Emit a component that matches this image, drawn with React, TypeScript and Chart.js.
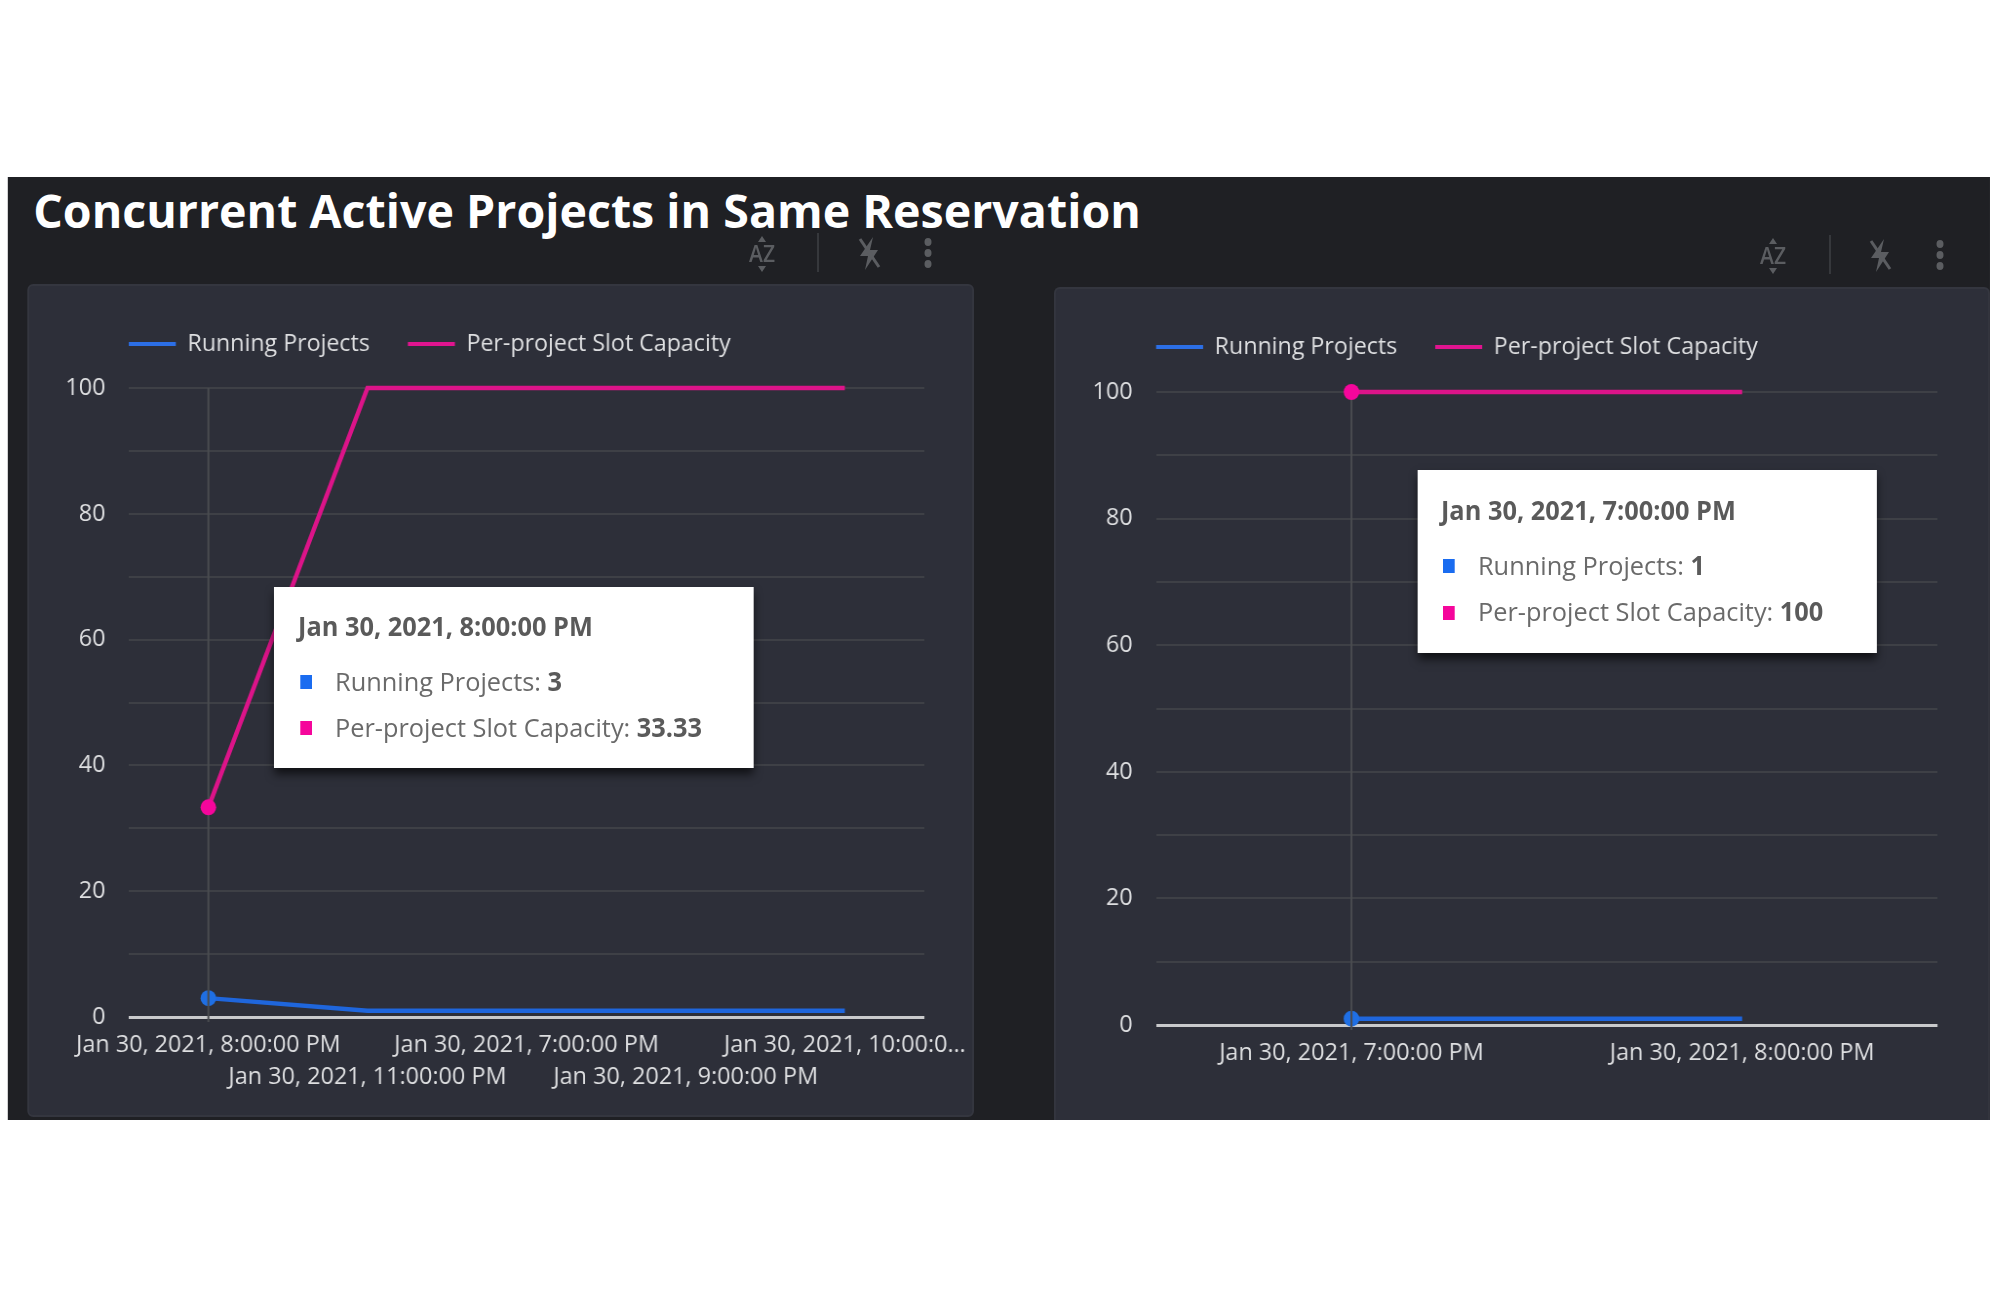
import React, { useEffect, useRef } from "react";
import { Chart, registerables } from "chart.js";

Chart.register(...registerables);

const titleText = "Concurrent Active Projects in Same Reservation";
const seriesNames = ["Running Projects", "Per-project Slot Capacity"];

const leftCategories = [
  "Jan 30, 2021, 8:00:00 PM",
  "Jan 30, 2021, 11:00:00 PM",
  "Jan 30, 2021, 7:00:00 PM",
  "Jan 30, 2021, 9:00:00 PM",
  "Jan 30, 2021, 10:00:00 PM",
];
const leftTickLabels = [
  ["Jan 30, 2021, 8:00:00 PM", ""],
  ["", "Jan 30, 2021, 11:00:00 PM"],
  ["Jan 30, 2021, 7:00:00 PM", ""],
  ["", "Jan 30, 2021, 9:00:00 PM"],
  ["Jan 30, 2021, 10:00:0…", ""],
];
const leftRunning = [3, 1, 1, 1, 1];
const leftCapacity = [33.33, 100, 100, 100, 100];

const rightCategories = ["Jan 30, 2021, 7:00:00 PM", "Jan 30, 2021, 8:00:00 PM"];
const rightTickLabels = [["Jan 30, 2021, 7:00:00 PM", ""], ["Jan 30, 2021, 8:00:00 PM", ""]];
const rightRunning = [1, 1];
const rightCapacity = [100, 100];

const SX = 0.975;
const X = (v: number) => v / SX;
const FONT = "'Open Sans'";
const BLUE = "#1f66dc";
const PINK = "#dc1489";
const TEXT = "#dedfe1";
const LEGEND_GAP = 39;
const LEGEND_TOP = 9;
const AXIS_W = 90;

function LineChart(props: any) {
  const ref = useRef<HTMLCanvasElement>(null);
  const { cats, ticks, running, capacity, active, left, right, top, bottom, plotLeft, plotRight, plotTop, plotBottom } = props;
  useEffect(() => {
    const legendH = plotTop - top - LEGEND_TOP;
    const axisH = bottom - plotBottom;
    const plugin = {
      id: "fit",
      beforeInit(chart: any) {
        const fit = chart.legend.fit;
        chart.legend.fit = function () {
          fit.call(chart.legend);
          this.height = legendH;
        };
      },
      beforeDraw(chart: any) {
        chart.legend.left = chart.chartArea.left - LEGEND_GAP;
      },
      afterDatasetDraw(chart: any, args: any) {
        if (args.index !== 0) return;
        const c = chart.ctx;
        const x = chart.scales.x.getPixelForValue(active);
        c.save();
        c.strokeStyle = "#4a4c50";
        c.lineWidth = 2;
        c.beginPath();
        c.moveTo(x, chart.chartArea.top);
        c.lineTo(x, chart.chartArea.bottom + 5);
        c.stroke();
        c.restore();
      },
    };
    const radius = (ctx: any) => (ctx.dataIndex === active ? 8 : 0);
    const chart = new Chart(ref.current as any, {
      type: "line",
      data: {
        labels: cats,
        datasets: [
          { label: seriesNames[0], data: running, borderColor: BLUE, backgroundColor: "#2c6fe6", borderWidth: 4.5, pointRadius: radius, pointBorderWidth: 0, pointBackgroundColor: "#1f6fe4", order: 2, clip: false as any, tension: 0 },
          { label: seriesNames[1], data: capacity, borderColor: PINK, backgroundColor: "#e0148f", borderWidth: 4.5, pointRadius: radius, pointBorderWidth: 0, pointBackgroundColor: "#f5069b", order: 1, clip: false as any, tension: 0 },
        ],
      },
      plugins: [plugin as any],
      options: {
        responsive: false,
        animation: false,
        events: [],
        layout: {
          padding: {
            left: X(plotLeft - left) - AXIS_W,
            right: X(right - plotRight),
            top: LEGEND_TOP,
            bottom: 0,
          },
        },
        plugins: {
          title: { display: false },
          tooltip: { enabled: false },
          legend: {
            position: "top",
            align: "start",
            labels: {
              boxWidth: X(47),
              boxHeight: 4,
              padding: LEGEND_GAP,
              color: TEXT,
              font: { family: FONT, size: 23.8 },
              sort: (a: any, b: any) => a.datasetIndex - b.datasetIndex,
              generateLabels: (chart: any) =>
                Chart.defaults.plugins.legend.labels.generateLabels(chart).map((it: any) => ({ ...it, lineWidth: 0 })),
            },
          },
        },
        scales: {
          x: {
            type: "category",
            offset: true,
            grid: { display: false, drawTicks: false },
            border: { display: false },
            afterFit: (s: any) => { s.height = axisH; },
            ticks: {
              autoSkip: false,
              maxRotation: 0,
              minRotation: 0,
              padding: 12.5,
              color: TEXT,
              font: { family: FONT, size: 24, lineHeight: 32 / 24 },
              callback: (_v: any, i: number) => ticks[i],
            },
          },
          y: {
            min: 0,
            max: 100,
            grid: {
              drawTicks: false,
              color: (c: any) => (c.tick.value === 0 ? "#c9cacc" : "#3e4046"),
              lineWidth: (c: any) => (c.tick.value === 0 ? 3 : 2),
            },
            border: { display: false },
            afterFit: (s: any) => { s.width = AXIS_W; },
            ticks: {
              stepSize: 10,
              padding: 24,
              color: TEXT,
              font: { family: FONT, size: 24 },
              callback: (v: any) => (Number(v) % 20 === 0 ? String(v) : ""),
            },
          },
        },
      } as any,
    });
    return () => chart.destroy();
  }, []);
  return (
    <canvas
      ref={ref}
      width={X(right - left)}
      height={bottom - top}
      style={{ position: "absolute", left: X(left), top }}
    />
  );
}

function Tip(props: any) {
  const { l, r, t, b, title, titleY, rows, tx, sq, txt } = props;
  const abs = (x: number, y: number): React.CSSProperties => ({
    position: "absolute", left: X(x - l), top: y - t, transform: "translateY(-50%)", whiteSpace: "nowrap", lineHeight: 1,
  });
  return (
    <div style={{ position: "absolute", left: X(l), top: t, width: X(r - l), height: b - t, background: "#fff", boxShadow: "0 6px 9px rgba(0,0,0,0.65)", fontFamily: FONT, fontSize: 26, color: "#6a6a6a" }}>
      <div style={{ ...abs(tx, titleY), fontWeight: 700, color: "#5a5a5a" }}>{title}</div>
      {rows.map((row: any, i: number) => (
        <React.Fragment key={i}>
          <div style={{ position: "absolute", left: X(sq - l), top: row.sy - t - 7, width: X(12), height: 14, background: row.color }} />
          <div style={{ ...abs(txt, row.y) }}>
            {row.name}: <b style={{ color: "#5a5a5a" }}>{row.value}</b>
          </div>
        </React.Fragment>
      ))}
    </div>
  );
}

function Icons({ az, sep, bolt, dots, y }: any) {
  const c = "#5b5d61";
  return (
    <g>
      <text x={az} y={y + 9} textAnchor="middle" fontFamily={FONT} fontSize={24} fontWeight={600} fill={c} textLength={26} lengthAdjust="spacingAndGlyphs">AZ</text>
      <polygon points={`${az - 4},${y - 11} ${az + 4},${y - 11} ${az},${y - 17}`} fill={c} />
      <polygon points={`${az - 4},${y + 13} ${az + 4},${y + 13} ${az},${y + 19}`} fill={c} />
      <line x1={sep} x2={sep} y1={y - 20} y2={y + 19} stroke="#36383c" strokeWidth={2} />
      <polygon points={`${bolt + 4},${y - 16} ${bolt - 9},${y + 3} ${bolt - 1},${y + 3} ${bolt - 4},${y + 17} ${bolt + 9},${y - 3} ${bolt + 1},${y - 3}`} fill={c} />
      <line x1={bolt - 9} x2={bolt + 10} y1={y - 14} y2={y + 14} stroke={c} strokeWidth={3} />
      {[-11, 0, 11].map((d) => (<ellipse key={d} cx={dots} cy={y + d} rx={3.5} ry={4} fill={c} />))}
    </g>
  );
}

export default function App() {
  return (
    <div style={{ position: "absolute", left: 0, top: 0, width: 2000, height: 1295, overflow: "hidden", background: "#fff" }}>
      <div style={{ position: "absolute", left: 0, top: 0, width: X(2000), height: 1295, transform: `scaleX(${SX})`, transformOrigin: "0 0", filter: "blur(0.5px)" }}>
        <div style={{ position: "absolute", left: X(8), top: 177, width: X(1982), height: 943, background: "#1f2024", overflow: "hidden" }} />
        <div style={{ position: "absolute", left: X(27), top: 284, width: X(947), height: 833, background: "#2d2f39", border: "2px solid #34363f", boxSizing: "border-box", borderRadius: 6 }} />
        <div style={{ position: "absolute", left: X(1054), top: 287, width: X(936), height: 833, background: "#2d2f39", border: "2px solid #34363f", borderBottom: "none", boxSizing: "border-box", borderRadius: "6px 6px 0 0" }} />
        <div style={{ position: "absolute", left: X(33), top: 210, transform: "translateY(-50%) scaleX(1.016)", transformOrigin: "0 50%", fontFamily: FONT, fontWeight: 700, fontSize: 47, lineHeight: 1, color: "#fff", whiteSpace: "nowrap" }}>{titleText}</div>

        <LineChart cats={leftCategories} ticks={leftTickLabels} running={leftRunning} capacity={leftCapacity} active={0}
          left={8} right={1000} top={284} bottom={1117} plotLeft={129} plotRight={925} plotTop={388} plotBottom={1017} />
        <LineChart cats={rightCategories} ticks={rightTickLabels} running={rightRunning} capacity={rightCapacity} active={0}
          left={1010} right={1990} top={287} bottom={1120} plotLeft={1156} plotRight={1937.5} plotTop={392} plotBottom={1025} />

        <Tip l={274} r={754} t={587} b={768} title={leftCategories[0]} titleY={626} tx={298} sq={300} txt={335}
          rows={[
            { y: 681, sy: 682, color: "#1a6cf0", name: seriesNames[0], value: leftRunning[0] },
            { y: 727, sy: 728, color: "#f5069b", name: seriesNames[1], value: leftCapacity[0] },
          ]} />
        <Tip l={1418} r={1877} t={470} b={653} title={rightCategories[0]} titleY={510} tx={1441} sq={1443} txt={1478}
          rows={[
            { y: 565, sy: 566, color: "#1a6cf0", name: seriesNames[0], value: rightRunning[0] },
            { y: 611, sy: 613, color: "#f5069b", name: seriesNames[1], value: rightCapacity[0] },
          ]} />
      </div>
      <svg width={2000} height={1295} style={{ position: "absolute", left: 0, top: 0, filter: "blur(0.5px)" }}>
        <Icons az={762} sep={818} bolt={869} dots={928} y={253} />
        <Icons az={1773} sep={1830} bolt={1880} dots={1940} y={255} />
      </svg>
    </div>
  );
}
